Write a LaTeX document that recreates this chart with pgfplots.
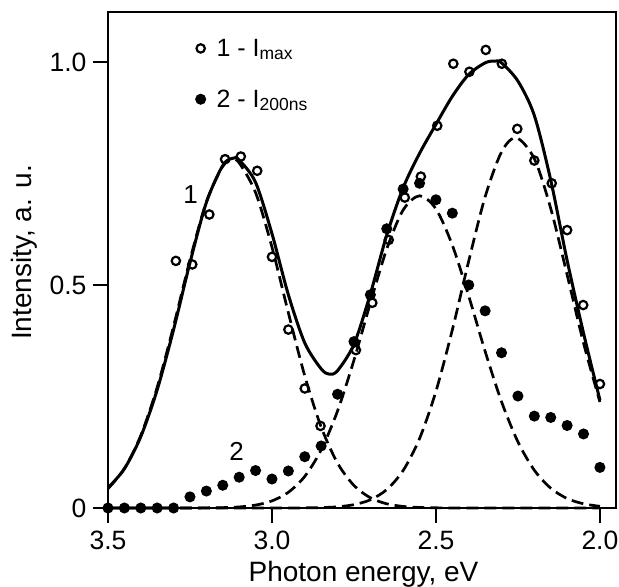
\documentclass[border=0pt]{standalone}
\usepackage{fontspec}
\setmainfont{Liberation Sans}
\usepackage{pgfplots}
\pgfplotsset{compat=1.18}
\usetikzlibrary{calc}

\begin{document}
\begin{tikzpicture}
\begin{axis}[
  name=ax,
  width=508bp, height=496bp, scale only axis,
  x dir=reverse,
  xmin=1.951, xmax=3.5, ymin=0, ymax=1.112,
  line width=2.4bp,
  axis line style={line width=2.4bp},
  xtick={3.5,3.0,2.5,2.0}, xticklabels={3.5,3.0,2.5,2.0},
  ytick={0,0.5,1.0}, yticklabels={0,0.5,1.0},
  minor tick num=0,
  tick pos=left,
  tick align=outside,
  major tick length=15bp,
  tick style={line width=2.4bp, black},
  ticklabel style={font=\fontsize{26.5bp}{31bp}\selectfont},
  xticklabel style={yshift=-3bp},
  yticklabel style={xshift=-2bp},
  xlabel={Photon energy, eV},
  ylabel={Intensity, a. u.},
  label style={font=\fontsize{28bp}{33bp}\selectfont},
  xlabel style={at={(axis description cs:0.503,-0.148)}, anchor=base, inner sep=0pt},
  ylabel style={at={(axis description cs:-0.136,0.515)}, anchor=south, inner sep=0pt},
  clip=false,
  legend style={draw=none, fill=none, at={(axis cs:3.236,1.054)}, anchor=north west,
    font=\fontsize{25bp}{29bp}\selectfont, inner sep=0pt, row sep=32bp, column sep=11bp,
    nodes={inner sep=0pt, anchor=west}},
  legend cell align=left,
  reverse legend,
  legend image code/.code={\draw[#1] plot coordinates {(0bp,0bp)};},
]
% dashed Gaussian components
\addplot[forget plot, black, line width=2.7bp, dash pattern=on 12bp off 6bp, smooth, tension=0.5] coordinates {
(3.50,0.0434)(3.45,0.0884)(3.40,0.1626)(3.35,0.2707)(3.30,0.408)(3.25,0.5563)(3.20,0.6863)
(3.15,0.7661)(3.12,0.78)(3.10,0.7738)(3.05,0.7071)(3.00,0.5848)(2.95,0.4376)(2.90,0.2962)
(2.85,0.1815)(2.80,0.1006)(2.75,0.0505)(2.70,0.0229)(2.65,0.0094)(2.60,0.0035)(2.55,0.0012)
(2.50,0.0004)(2.45,0.0001)(2.40,0)(2.30,0)(2.20,0)(2.10,0)(2.00,0)};
\addplot[forget plot, black, line width=2.7bp, dash pattern=on 12bp off 6bp, smooth, tension=0.5] coordinates {
(3.50,0)(3.40,0)(3.30,0)(3.20,0.0003)(3.15,0.0008)(3.10,0.0024)(3.05,0.0065)(3.00,0.0159)
(2.95,0.0352)(2.90,0.0709)(2.85,0.1302)(2.80,0.2177)(2.75,0.3315)(2.70,0.4596)(2.65,0.5807)
(2.60,0.6681)(2.55,0.70)(2.50,0.6705)(2.45,0.5891)(2.40,0.475)(2.35,0.3512)(2.30,0.2383)
(2.25,0.1483)(2.20,0.0847)(2.15,0.0444)(2.10,0.0213)(2.05,0.0094)(2.00,0.0038)};
\addplot[forget plot, black, line width=2.7bp, dash pattern=on 12bp off 6bp, smooth, tension=0.5] coordinates {
(3.50,0)(3.40,0)(3.30,0)(3.20,0)(3.10,0)(3.00,0)(2.95,0.0001)(2.90,0.0003)(2.85,0.0009)
(2.80,0.0027)(2.75,0.0075)(2.70,0.0184)(2.65,0.0413)(2.60,0.0841)(2.55,0.1557)(2.50,0.2617)
(2.45,0.3995)(2.40,0.5539)(2.35,0.6977)(2.30,0.7983)(2.255,0.83)(2.20,0.7831)(2.15,0.6714)
(2.10,0.5229)(2.05,0.3699)(2.00,0.2377)};
% solid fit
\addplot[forget plot, black, line width=3bp, smooth, tension=0.5] coordinates {
(3.50,0.045)(3.45,0.088)(3.40,0.160)(3.35,0.265)(3.30,0.400)(3.25,0.550)(3.20,0.685)
(3.15,0.768)(3.12,0.784)(3.10,0.780)(3.05,0.730)(3.00,0.615)(2.95,0.478)(2.90,0.370)
(2.85,0.312)(2.825,0.300)(2.80,0.308)(2.75,0.367)(2.70,0.480)(2.65,0.612)(2.60,0.718)
(2.55,0.795)(2.50,0.860)(2.45,0.923)(2.40,0.972)(2.35,0.998)(2.32,1.002)(2.30,0.998)
(2.25,0.957)(2.20,0.880)(2.15,0.735)(2.10,0.555)(2.05,0.392)(2.00,0.242)};
% 2 - I_200ns (filled)
\addplot[only marks, mark=*, mark size=4.9bp, draw=black, fill=black, line width=1.2bp] coordinates {
(3.50,0)(3.45,0)(3.40,0)(3.35,0)(3.30,0)(3.25,0.025)(3.20,0.038)(3.15,0.051)(3.10,0.069)
(3.05,0.084)(3.00,0.065)(2.95,0.083)(2.90,0.115)(2.85,0.139)(2.80,0.255)(2.75,0.373)
(2.70,0.478)(2.65,0.626)(2.60,0.715)(2.55,0.728)(2.50,0.691)(2.45,0.661)(2.40,0.500)
(2.35,0.442)(2.30,0.348)(2.25,0.251)(2.20,0.206)(2.15,0.203)(2.10,0.185)(2.05,0.166)(2.00,0.091)};
\addlegendentry{2 - I\textsubscript{200ns}}
% 1 - I_max (open)
\addplot[only marks, mark=o, mark size=4.2bp, draw=black, fill=white, mark options={fill=white, line width=2.2bp}] coordinates {
(3.293,0.554)(3.243,0.546)(3.191,0.658)(3.143,0.782)(3.095,0.788)(3.045,0.756)(3.00,0.563)
(2.95,0.400)(2.90,0.268)(2.852,0.184)(2.744,0.354)(2.694,0.460)(2.644,0.601)(2.595,0.696)
(2.546,0.743)(2.496,0.857)(2.447,0.996)(2.398,0.978)(2.348,1.027)(2.299,0.996)(2.252,0.850)
(2.200,0.779)(2.147,0.728)(2.100,0.623)(2.051,0.455)(2.00,0.278)};
\addlegendentry{1 - I\textsubscript{max}}
\node[font=\fontsize{26bp}{30bp}\selectfont] at (axis cs:3.248,0.702) {1};
\node[font=\fontsize{26bp}{30bp}\selectfont] at (axis cs:3.108,0.126) {2};
\end{axis}
\pgfresetboundingbox
\path ($(ax.south west)+(-108bp,-79bp)$) rectangle ($(ax.north east)+(3bp,12bp)$);
\end{tikzpicture}
\end{document}
